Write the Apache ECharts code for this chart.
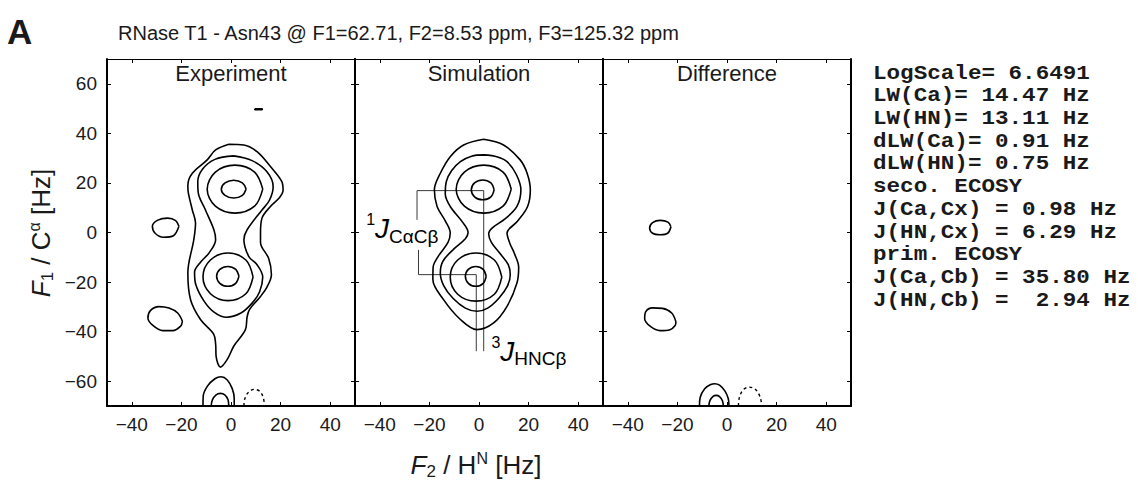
<!DOCTYPE html>
<html><head><meta charset="utf-8">
<script src="https://cdn.jsdelivr.net/npm/echarts@6/dist/echarts.min.js"></script>
<style>html,body{margin:0;padding:0;background:#fff}#c{width:1138px;height:481px}</style>
</head><body><div id="c"></div>
<script>
// ---------- text / ticks ----------
const xTicks = [-40, -20, 0, 20, 40];
const yTicks = [-60, -40, -20, 0, 20, 40, 60];
const xRange = [-50, 50];
const yRange = [-70, 70];
const panelTitles = ['Experiment', 'Simulation', 'Difference'];
const mainTitle = 'RNase T1 - Asn43 @ F1=62.71, F2=8.53 ppm, F3=125.32 ppm';
const panelLetter = 'A';
const infoLines = [
  'LogScale= 6.6491',
  'LW(Ca)= 14.47 Hz',
  'LW(HN)= 13.11 Hz',
  'dLW(Ca)= 0.91 Hz',
  'dLW(HN)= 0.75 Hz',
  'seco. ECOSY',
  'J(Ca,Cx) = 0.98 Hz',
  'J(HN,Cx) = 6.29 Hz',
  'prim. ECOSY',
  'J(Ca,Cb) = 35.80 Hz',
  'J(HN,Cb) =  2.94 Hz'
];

// ---------- Experiment contours (F2 Hz, F1 Hz) ----------
const expTopInner = [[6.1,17.5],[4.6,20.0],[1.1,21.1],[-2.4,20.0],[-3.9,17.5],[-2.4,15.0],[1.1,13.9],[4.6,15.0],[6.1,17.5]];
const expTopRing = [[12.8,17.5],[9.5,24.4],[1.6,27.2],[-6.3,24.4],[-9.6,17.5],[-6.3,10.6],[1.6,7.8],[9.5,10.6],[12.8,17.5]];
const expLowInner = [[3.2,-17.7],[1.9,-14.9],[-1.3,-13.7],[-4.5,-14.9],[-5.8,-17.7],[-4.5,-20.5],[-1.3,-21.7],[1.9,-20.5],[3.2,-17.7]];
const expLowRing = [[8.9,-17.9],[6.0,-11.1],[-1.2,-8.3],[-8.3,-11.1],[-11.3,-17.9],[-8.3,-24.7],[-1.2,-27.5],[6.0,-24.7],[8.9,-17.9]];
const expPeanut = [[1.1,30.9],[8.5,29.0],[14.5,24.5],[17.0,18.5],[15.5,13.0],[12.5,9.1],[6.5,1.1],[5.2,-2.9],[7.2,-9.7],[10.5,-13.0],[12.8,-18.0],[11.5,-24.0],[8.5,-28.5],[4.0,-32.5],[-1.8,-34.2],[-7.0,-32.0],[-11.0,-27.5],[-14.2,-21.0],[-14.7,-16.0],[-12.3,-12.0],[-8.9,-8.3],[-6.2,-2.9],[-6.9,1.1],[-10.3,9.1],[-13.2,16.0],[-13.4,20.5],[-11.5,25.5],[-6.5,29.5],[1.1,30.9]];
const expOuter = [[-0.9,35.6],[5.2,35.3],[10.5,32.6],[15.9,26.6],[20.5,20.5],[21.0,17.0],[19.5,14.0],[15.9,10.5],[12.5,5.8],[11.9,0.0],[11.9,-4.0],[15.2,-10.5],[16.3,-17.0],[14.5,-22.0],[11.9,-25.8],[7.5,-31.0],[6.5,-34.0],[5.8,-39.2],[1.1,-45.9],[-1.5,-51.2],[-4.2,-54.3],[-6.0,-50.0],[-6.2,-45.0],[-7.0,-41.0],[-12.3,-35.1],[-16.3,-27.1],[-17.4,-16.3],[-15.0,-2.9],[-14.3,3.8],[-15.6,9.1],[-17.2,16.0],[-17.4,19.0],[-15.6,23.9],[-9.6,29.3],[-6.2,33.3],[-0.9,35.6]];
const expSideUpper = [[-21.0,2.5],[-22.3,4.8],[-25.5,5.8],[-29.5,5.0],[-31.7,2.5],[-30.6,-0.3],[-27.2,-1.9],[-23.2,-1.3],[-21.0,2.5]];
const expSideLower = [[-19.6,-35.8],[-21.5,-32.5],[-25.0,-30.5],[-29.0,-29.9],[-32.5,-31.5],[-33.5,-34.5],[-31.5,-37.5],[-27.5,-39.6],[-23.5,-39.6],[-20.3,-37.8],[-19.6,-35.8]];
const expBottomOuter = [[-11.3,-70],[-11.2,-66],[-9.5,-62],[-6.5,-59],[-4.0,-58.2],[-1.5,-59.5],[0.5,-63],[1.3,-67],[1.3,-70]];
const expBottomInner = [[-8.0,-70],[-7.5,-67.5],[-6.0,-65.5],[-4.3,-64.9],[-2.5,-65.5],[-1.2,-67.5],[-0.9,-70]];
const expBottomNeg = [[5.2,-70],[5.6,-67],[7.0,-64.5],[9.2,-63.3],[11.5,-64],[13.0,-66.5],[13.5,-70]];
const expSpeck = [[9.6,49.9],[12.6,49.9],[12.6,49.5],[9.6,49.5],[9.6,49.9]];

// ---------- Simulation contours ----------
const simTopInner = [[6.1,17.2],[4.8,20.0],[1.5,21.2],[-1.8,20.0],[-3.1,17.2],[-1.8,14.4],[1.5,13.2],[4.8,14.4],[6.1,17.2]];
const simTopRing = [[13.0,17.5],[9.7,24.4],[1.9,27.2],[-5.9,24.4],[-9.2,17.5],[-5.9,10.6],[1.9,7.8],[9.7,10.6],[13.0,17.5]];
const simLowInner = [[2.9,-17.7],[1.7,-14.9],[-1.3,-13.7],[-4.3,-14.9],[-5.5,-17.7],[-4.3,-20.5],[-1.3,-21.7],[1.7,-20.5],[2.9,-17.7]];
const simLowRing = [[9.2,-18.0],[6.2,-11.1],[-1.2,-8.3],[-8.6,-11.1],[-11.6,-18.0],[-8.6,-24.9],[-1.2,-27.7],[6.2,-24.9],[9.2,-18.0]];
const simPeanut = [[1.9,31.3],[7.5,30.5],[11.3,28.6],[15.0,23.5],[16.9,17.2],[15.3,10.5],[10.5,5.5],[5.5,2.0],[3.9,-0.5],[5.0,-4.0],[8.5,-8.5],[11.8,-13.0],[12.6,-17.0],[11.5,-21.5],[8.0,-26.5],[3.5,-30.5],[-0.8,-31.8],[-5.5,-30.5],[-10.5,-26.5],[-14.2,-21.5],[-15.6,-16.3],[-14.5,-11.5],[-10.0,-6.5],[-5.5,-2.5],[-4.4,0.0],[-6.5,4.0],[-11.6,10.5],[-13.6,15.5],[-13.2,20.5],[-11.0,25.0],[-7.5,28.6],[-3.0,30.8],[1.9,31.3]];
const simOuter = [[1.9,37.6],[9.9,35.3],[16.6,29.3],[19.4,23.9],[20.7,17.2],[19.6,10.5],[15.5,4.5],[11.3,-0.2],[12.5,-4.5],[14.2,-8.3],[16.0,-14.0],[15.3,-20.4],[11.3,-29.8],[5.9,-36.5],[-0.8,-39.2],[-7.5,-35.1],[-14.3,-27.1],[-18.6,-19.0],[-18.5,-14.0],[-16.5,-9.7],[-12.5,-4.0],[-11.6,-0.2],[-13.5,4.5],[-16.9,10.5],[-18.0,17.2],[-15.6,23.9],[-11.6,30.6],[-6.2,35.3],[1.9,37.6]];
const simBracketCaCb = [[-25.0,5.1],[-25.0,16.9],[1.9,16.9],[1.9,-47.9]];
const simBracketHNCb = [[-24.4,-7.0],[-24.4,-17.0],[-1.1,-17.0],[-1.1,-47.9]];
const labelCaCbAt = [-45.5, 1.5];
const labelHNCbAt = [5.0, -48.0];

// ---------- Difference contours ----------
const difSideUpper = [[-22.6,2.3],[-23.8,4.2],[-26.9,4.9],[-30.0,4.0],[-31.2,1.8],[-30.0,-0.3],[-26.9,-0.9],[-23.8,-0.2],[-22.6,2.3]];
const difSideLower = [[-20.6,-36.0],[-22.3,-32.5],[-26.0,-30.6],[-30.0,-30.4],[-32.8,-32.0],[-33.2,-34.8],[-31.0,-37.8],[-27.0,-39.6],[-23.0,-39.2],[-20.9,-37.5],[-20.6,-36.0]];
const difBottomOuter = [[-11.1,-70],[-10.8,-66.5],[-9.0,-63],[-6.5,-61.3],[-5.0,-61],[-3.0,-61.6],[-0.8,-64],[0.5,-67],[0.8,-70]];
const difBottomInner = [[-7.3,-70],[-6.9,-67.8],[-5.5,-66],[-4.4,-65.7],[-3.0,-66.2],[-1.8,-68],[-1.5,-70]];
const difBottomNeg = [[4.6,-70],[5.0,-66.5],[6.5,-63.5],[9.0,-62.4],[11.5,-63.3],[13.4,-66.5],[14.0,-70]];

// ---------- assembly ----------
const panels = [
  { solid: [expTopInner, expTopRing, expLowInner, expLowRing, expPeanut, expOuter, expSideUpper, expSideLower, expBottomOuter, expBottomInner, expSpeck], dashed: [expBottomNeg] },
  { solid: [simTopInner, simTopRing, simLowInner, simLowRing, simPeanut, simOuter], dashed: [] },
  { solid: [difSideUpper, difSideLower, difBottomOuter, difBottomInner], dashed: [difBottomNeg] }
];

const SANS = '"Liberation Sans", Arial, Helvetica, sans-serif';
const INK = '#1a1a1a';
const gridLeft = [107, 355, 603];
const gridW = 248, gridTop = 59, gridH = 347;
const fmtMinus = v => String(v).replace('-', '\u2212');

const grids = [], xAxes = [], yAxes = [], series = [];
gridLeft.forEach((l, i) => {
  grids.push({ left: l, top: gridTop, width: gridW, height: gridH, containLabel: false, outerBoundsMode: 'none', show: false });
  const tick = { show: true, inside: true, length: 4, lineStyle: { color: '#000', width: 1 }, customValues: xTicks };
  xAxes.push({ type: 'value', gridIndex: i, position: 'bottom', min: xRange[0], max: xRange[1],
    axisLine: { show: true, onZero: false, lineStyle: { color: '#000', width: 2 } },
    axisTick: tick, splitLine: { show: false },
    axisLabel: { show: true, customValues: xTicks, formatter: fmtMinus, margin: 9, fontSize: 19, fontFamily: SANS, color: INK } });
  xAxes.push({ type: 'value', gridIndex: i, position: 'top', min: xRange[0], max: xRange[1],
    axisLine: { show: true, onZero: false, lineStyle: { color: '#000', width: 1.2 } },
    axisTick: tick, splitLine: { show: false }, axisLabel: { show: false } });
  const ytick = { show: true, inside: true, length: 4, lineStyle: { color: '#000', width: 1 }, customValues: yTicks };
  yAxes.push({ type: 'value', gridIndex: i, position: 'left', min: yRange[0], max: yRange[1],
    axisLine: { show: true, onZero: false, lineStyle: { color: '#000', width: 2 } },
    axisTick: ytick, splitLine: { show: false },
    axisLabel: { show: i === 0, customValues: yTicks, formatter: fmtMinus, margin: 10, fontSize: 19, fontFamily: SANS, color: INK } });
  yAxes.push({ type: 'value', gridIndex: i, position: 'right', min: yRange[0], max: yRange[1],
    axisLine: { show: true, onZero: false, lineStyle: { color: '#000', width: 2 } },
    axisTick: ytick, splitLine: { show: false }, axisLabel: { show: false } });

  const base = { type: 'line', xAxisIndex: 2 * i, yAxisIndex: 2 * i, showSymbol: false, symbol: 'none',
    smooth: 0.35, silent: true, animation: false, clip: true, z: 3 };
  panels[i].solid.forEach(c => series.push(Object.assign({}, base, { data: c, lineStyle: { color: '#000', width: 1.6 } })));
  panels[i].dashed.forEach(c => series.push(Object.assign({}, base, { data: c, lineStyle: { color: '#000', width: 1.4, type: [3, 3] } })));
});

// brackets + J labels (simulation panel)
[simBracketCaCb, simBracketHNCb].forEach(b => series.push({ type: 'line', xAxisIndex: 2, yAxisIndex: 2, data: b,
  showSymbol: false, symbol: 'none', smooth: false, silent: true, animation: false, z: 2,
  lineStyle: { color: '#3a3a3a', width: 1 } }));
const jRich = {
  sup: { fontSize: 16, fontFamily: SANS, color: '#000', lineHeight: 16, verticalAlign: 'top' },
  j: { fontSize: 28, fontStyle: 'italic', fontFamily: SANS, color: '#000', lineHeight: 34, verticalAlign: 'middle' },
  sub: { fontSize: 19, fontFamily: SANS, color: '#000', lineHeight: 19, verticalAlign: 'bottom' }
};
series.push({ type: 'scatter', xAxisIndex: 2, yAxisIndex: 2, symbolSize: 0, silent: true, animation: false, z: 5,
  itemStyle: { color: '#000', opacity: 1 },
  data: [
    { value: labelCaCbAt, label: { formatter: '{sup|1}{j|J}{sub|C\u03b1C\u03b2}' } },
    { value: labelHNCbAt, label: { formatter: '{sup|3}{j|J}{sub|HNC\u03b2}' } }
  ],
  label: { show: true, position: 'right', distance: 0, color: '#000', opacity: 1, textBorderWidth: 0, rich: jRich } });

const nameRich = {
  i: { fontSize: 26, fontStyle: 'italic', fontFamily: SANS, fill: INK, color: INK, lineHeight: 30, verticalAlign: 'middle' },
  n: { fontSize: 26, fontFamily: SANS, fill: INK, color: INK, lineHeight: 30, verticalAlign: 'middle' },
  sub: { fontSize: 17, fontFamily: SANS, fill: INK, color: INK, lineHeight: 17, verticalAlign: 'bottom' },
  sup: { fontSize: 16, fontFamily: SANS, fill: INK, color: INK, lineHeight: 16, verticalAlign: 'top' }
};

const graphics = [
  { type: 'text', x: 7, y: 31, style: { text: panelLetter, font: 'bold 35px ' + SANS, fill: INK, verticalAlign: 'middle' } },
  { type: 'text', x: 118, y: 33, style: { text: mainTitle, font: '20px ' + SANS, fill: INK, verticalAlign: 'middle' } },
  { type: 'text', x: 476, y: 465, style: { text: '{i|F}{sub|2}{n| / H}{sup|N}{n| [Hz]}', rich: nameRich, align: 'center', verticalAlign: 'middle' } },
  { type: 'text', x: 41, y: 233, rotation: Math.PI / 2, style: { text: '{i|F}{sub|1}{n| / C}{sup|\u03b1}{n| [Hz]}', rich: nameRich, align: 'center', verticalAlign: 'middle' } }
];
infoLines.forEach((t, k) => graphics.push({ type: 'text', x: 873, y: 73 + k * 22.7, scaleX: 1.13, scaleY: 1,
  style: { text: t, font: 'bold 20px "Liberation Mono", "Courier New", monospace', fill: INK, verticalAlign: 'middle' } }));
panelTitles.forEach((t, i) => graphics.push({ type: 'text', x: gridLeft[i] + gridW / 2, y: 73,
  style: { text: t, font: '22px ' + SANS, fill: INK, align: 'center', verticalAlign: 'middle' } }));

const chart = echarts.init(document.getElementById('c'), null, { renderer: 'svg' });
chart.setOption({ animation: false, backgroundColor: '#fff', grid: grids, xAxis: xAxes, yAxis: yAxes, series: series, graphic: graphics });
</script>
</body></html>
